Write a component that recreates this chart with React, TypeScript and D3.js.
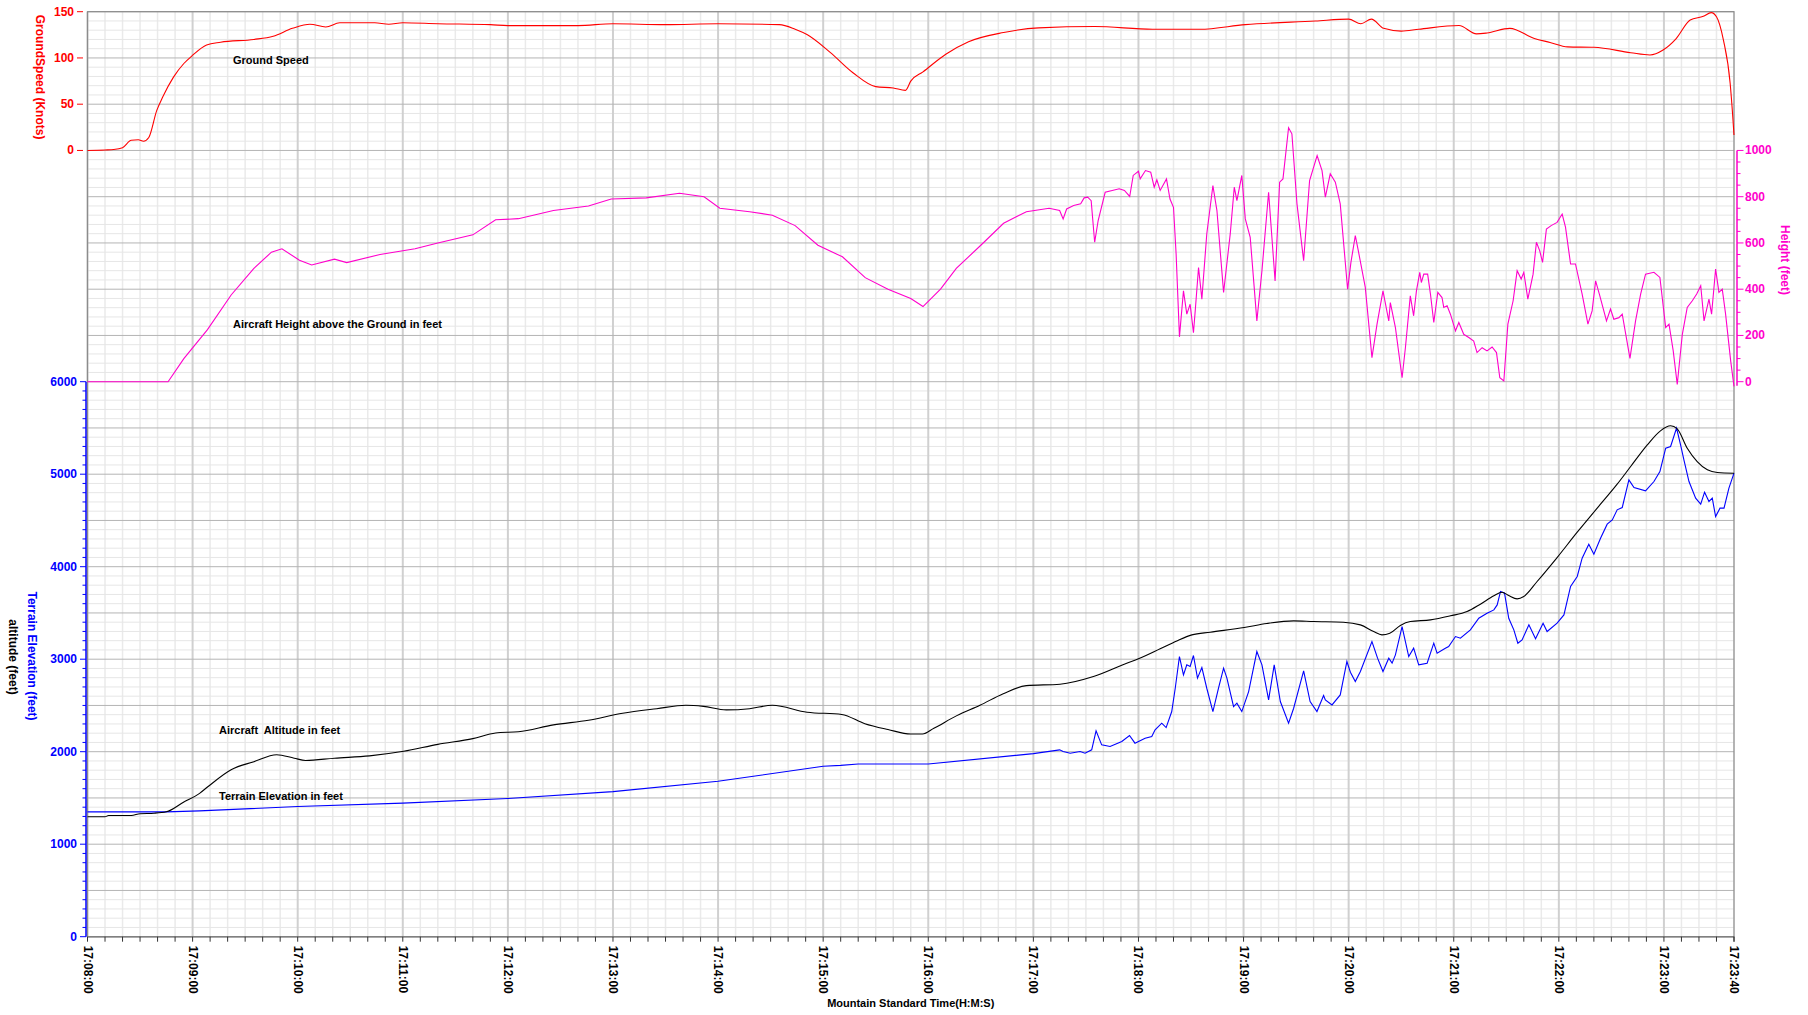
import React from "react";
import * as d3 from "d3";

// ---- data: [seconds after 17:08:00, value] ----
const timeTickLabels = [
  "17:08:00", "17:09:00", "17:10:00", "17:11:00", "17:12:00", "17:13:00",
  "17:14:00", "17:15:00", "17:16:00", "17:17:00", "17:18:00", "17:19:00",
  "17:20:00", "17:21:00", "17:22:00", "17:23:00", "17:23:40",
];

const speedTicks = [0, 50, 100, 150];
const heightTicks = [0, 200, 400, 600, 800, 1000];
const altitudeTicks = [0, 1000, 2000, 3000, 4000, 5000, 6000];

const groundSpeedKnots: [number, number][] = [
  [0, 0], [10, 0.5], [15, 1], [20, 3], [25, 11], [29, 11.5], [32, 10], [35, 14],
  [39.5, 43], [43, 58], [49, 79], [55, 94], [59.5, 102], [68, 114], [76, 117],
  [95, 120], [106, 123.5], [117, 132], [127, 136.5], [136, 133.5], [144, 138],
  [164, 138], [172, 136.5], [180, 138], [200, 137], [230, 136], [240, 135],
  [280, 135], [300, 137], [330, 136], [360, 137], [395, 136], [404, 131],
  [411, 125], [424, 106], [437, 84], [450, 69], [460, 67.5], [467, 65], [470, 75],
  [477, 85], [490, 104], [503, 117.5], [523, 127.5], [543, 132.5], [575, 134],
  [608, 131], [635, 131], [661, 136], [701, 140], [720, 142], [727, 137],
  [733, 142], [740, 132], [750, 129], [760, 131], [783, 135], [793, 126],
  [799, 127], [812, 132], [826, 121], [835, 116.8], [845, 112], [860, 111.5],
  [881, 105.7], [892, 103.2], [899.5, 108.6], [907, 121], [915, 141],
  [922.5, 145], [927, 149], [930, 144.6], [934, 119], [937.8, 72.6],
  [939.3, 36.5], [940, 16.7],
];

const heightAboveGroundFt: [number, number][] = [
  [0, 0], [46, 0], [55, 100], [68.5, 225], [82, 375], [95, 490], [105, 560],
  [111, 575], [121, 525], [128, 505], [141, 530], [148, 515], [167, 550],
  [187, 575], [200, 600], [220, 635], [233, 700], [246, 705], [266, 740],
  [286, 760], [299, 790], [319, 795], [338, 815], [352, 800], [361, 750],
  [378, 735], [391, 720], [404, 675], [417, 590], [431, 540], [444, 450],
  [457, 400], [470, 360], [477, 325], [487, 400], [496, 490], [510, 590],
  [523, 685], [536, 735], [549, 750],
  [555, 740], [557, 704], [559, 747], [563, 762], [567, 769], [569, 795],
  [571, 798], [573, 783], [575, 603], [577, 697], [581, 819], [585, 827],
  [589, 834], [592, 827], [595, 801], [597, 892], [600, 910], [601, 877],
  [604, 913], [607, 906], [609, 841], [610.5, 873], [612.4, 827], [616, 877],
  [618, 790], [620, 754], [621.5, 552], [623.4, 194], [625.7, 393], [627.6, 292],
  [629.5, 335], [631.4, 212], [632.4, 306], [634.3, 494], [636.2, 357],
  [639, 639], [642.5, 848], [644.8, 740], [648.6, 386], [652.4, 639],
  [654.7, 841], [656.2, 783], [659, 892], [661, 704], [663.8, 624],
  [667.6, 263], [670.5, 480], [674.3, 819], [678, 436], [680.6, 863],
  [682.5, 877], [685.7, 1098], [687.6, 1072], [690.5, 769], [694.3, 523],
  [697.7, 870], [702, 978], [704.8, 913], [706.7, 798], [709.5, 899],
  [712.4, 863], [715.2, 769], [719.4, 400], [721.3, 516], [723.8, 632],
  [725.7, 559], [729.5, 408], [733.3, 104], [736.2, 249], [739.6, 393],
  [742.9, 263], [743.8, 342], [746.7, 234], [750.5, 17], [752.4, 147],
  [755.2, 371], [757.1, 285], [758.7, 393], [760.6, 473], [761.5, 429],
  [762.9, 465], [765.1, 465], [766.7, 379], [768.6, 256], [770.9, 386],
  [773.3, 364], [774.3, 321], [776.2, 328], [778.1, 292], [781, 220],
  [782.9, 256], [785.7, 205], [788.6, 191], [791.4, 176], [793.3, 126],
  [796.2, 147], [799, 133], [801.9, 150], [804.4, 126], [806.3, 17],
  [808.6, 3], [810.9, 249], [813.9, 350], [816.2, 480], [818.5, 444],
  [820, 473], [822.3, 357], [825.3, 465], [827.2, 603], [829.1, 566],
  [830.7, 516], [832.9, 660], [835.6, 675], [839, 689], [841.9, 725],
  [843.8, 668], [846.7, 509], [849.5, 509], [853.3, 379], [856.6, 249],
  [859, 306], [861, 436], [863.4, 371], [867.2, 263], [869.5, 314],
  [871.4, 270], [874.3, 277], [876.2, 292], [880.6, 101], [883.8, 263],
  [886.7, 379], [889.5, 465], [894.3, 473], [897.7, 451], [901, 234],
  [902.9, 249], [905.3, 133], [907.6, -12], [910.5, 205], [913.3, 321],
  [916.2, 350], [918.7, 379], [921, 415], [922.9, 263], [925.7, 357],
  [927.2, 292], [929.5, 487], [931.4, 386], [933.3, 400], [935.2, 292],
  [938.1, 90], [940, -20],
];

const aircraftAltitudeFt: [number, number][] = [
  [0, 1297], [10, 1297], [12, 1310], [25, 1310], [30, 1330], [38, 1335],
  [45, 1350], [55, 1456], [64, 1550], [68.5, 1618], [82, 1805], [95, 1892],
  [108, 1967], [118, 1930], [124.5, 1905], [141, 1930], [161, 1955],
  [180.5, 2004], [200, 2079], [220, 2141], [233, 2203], [246, 2216],
  [266, 2290], [286, 2340], [305.5, 2415], [325, 2465], [341.6, 2502],
  [351.6, 2490], [364.7, 2452], [378, 2465], [391, 2502], [410.8, 2427],
  [430.6, 2403], [443.8, 2303], [457, 2240], [470, 2191], [476.7, 2191],
  [483.2, 2253], [496.3, 2390], [509.5, 2502], [522.8, 2627], [536, 2714],
  [555.2, 2730], [574.3, 2813], [593.3, 2957], [600, 3004], [612.4, 3112],
  [621.9, 3198], [630.5, 3263], [641, 3292], [660.4, 3342], [673.3, 3386],
  [688.6, 3414], [700, 3407], [717, 3400], [726.7, 3371], [734.3, 3299],
  [739, 3263], [743.5, 3280], [749.5, 3365], [755.2, 3407], [766.7, 3425],
  [778.1, 3469], [787.6, 3515], [795.2, 3595], [802.9, 3685], [807.6, 3724],
  [811.4, 3688], [816.2, 3652], [820, 3678], [827.6, 3840], [839, 4099],
  [850.5, 4373], [861.9, 4633], [873.3, 4892], [881, 5083], [890.5, 5317],
  [898, 5469], [903.8, 5523], [907.6, 5490], [913.3, 5281], [919, 5137],
  [924.8, 5047], [930.5, 5018], [940, 5011],
];

const terrainElevationFt: [number, number][] = [
  [0, 1350], [45, 1350], [64, 1360], [120, 1407], [180, 1444], [240, 1494],
  [300, 1568], [360, 1680], [420, 1842], [430, 1852], [440, 1867], [480, 1867],
  [540, 1979], [555, 2020], [557, 2002], [561, 1984], [566.7, 2002],
  [569.5, 1984], [573.3, 2020], [575.8, 2225], [579, 2074], [583.8, 2056],
  [590.5, 2110], [594.9, 2175], [598, 2092], [603.8, 2146], [607.6, 2164],
  [609.5, 2236], [613.3, 2308], [615.8, 2261], [619, 2434], [621, 2686],
  [623.4, 3029], [625.7, 2831], [627.6, 2939], [629.5, 2921], [631.4, 3040],
  [633.7, 2795], [636.2, 2910], [639, 2686], [642.5, 2434], [645.7, 2686],
  [648.6, 2903], [650.5, 2795], [654.3, 2488], [656.2, 2524], [659, 2434],
  [662.9, 2650], [667.6, 3083], [670.5, 2939], [674.3, 2560], [677.5, 2939],
  [681, 2542], [685.7, 2308], [688.6, 2470], [694.3, 2874], [698, 2542],
  [701.9, 2434], [705.7, 2607], [706.7, 2560], [710.5, 2506], [715.2, 2614],
  [719, 2975], [721, 2859], [723.8, 2759], [726.7, 2867], [733.3, 3191],
  [736.5, 3011], [739.6, 2867], [742.9, 3011], [744.8, 2957], [746.7, 3047],
  [750.5, 3353], [754.3, 3029], [757.1, 3119], [760, 2939], [764.8, 2957],
  [768.6, 3173], [770.5, 3065], [775.2, 3119], [777.1, 3137], [781, 3245],
  [783.8, 3227], [789.5, 3317], [794.3, 3443], [799, 3497], [802.9, 3533],
  [804.8, 3587], [806.7, 3732], [809, 3714], [811.4, 3443], [814.3, 3317],
  [816.6, 3173], [819, 3209], [822.9, 3371], [826.7, 3220], [831, 3389],
  [833.3, 3299], [839, 3389], [842.9, 3479], [846.7, 3786], [850.5, 3894],
  [853.3, 4092], [857.1, 4243], [860, 4135], [863.8, 4308], [867.6, 4460],
  [870.5, 4506], [873.3, 4615], [876.2, 4640], [880, 4939], [882.9, 4856],
  [889.5, 4820], [894.3, 4921], [897.7, 5029], [901, 5281], [903.8, 5299],
  [907.2, 5498], [909.5, 5317], [911.4, 5155], [914.3, 4921], [918.1, 4741],
  [921, 4676], [923.2, 4806], [925.7, 4705], [927.6, 4741], [929.5, 4542],
  [932, 4633], [934.3, 4633], [937.1, 4849], [940, 5011],
];

// ---- layout ----
const W = 1808;
const H = 1015;
const PLOT_L = 87.5;
const PLOT_R = 1734;
const PLOT_T = 11.7;
const PLOT_B = 936.7;

const RED = "#ff0000";
const PINK = "#ff00cc";
const BLUE = "#0000ff";
const FONT = "'Liberation Sans', Arial, Helvetica, sans-serif";

const toSeconds = (s: string) => {
  const [h, m, sec] = s.split(":").map(Number);
  return (h - 17) * 3600 + (m - 8) * 60 + sec;
};

export default function App() {
  const endSec = toSeconds(timeTickLabels[timeTickLabels.length - 1]);
  const x = d3.scaleLinear().domain([0, endSec]).range([PLOT_L, PLOT_R]);

  // the altitude scale, extended upward, drives the whole background grid
  const altY = d3.scaleLinear().domain([0, 6000]).range([PLOT_B, 381.7]);
  const heightY = d3.scaleLinear().domain([0, 1000]).range([altY(6000), altY(8500)]);
  const speedY = d3.scaleLinear().domain([0, 150]).range([altY(8500), altY(10000)]);

  const gridTop = 10000;
  const minorH = d3.range(0, gridTop + 1, 100).filter((v) => v % 500 !== 0);
  const majorH = d3.range(0, gridTop + 1, 500);
  const minorV = d3.range(0, endSec + 1, 10).filter((v) => v % 60 !== 0);
  const majorV = d3.range(0, endSec + 1, 60);

  const mk = (y: d3.ScaleLinear<number, number>, curve: d3.CurveFactory) =>
    d3
      .line<[number, number]>()
      .x((d) => x(d[0]))
      .y((d) => y(d[1]))
      .curve(curve);

  const speedPath = mk(speedY, d3.curveMonotoneX)(groundSpeedKnots) || "";
  const heightPath = mk(heightY, d3.curveLinear)(heightAboveGroundFt) || "";
  const altPath = mk(altY, d3.curveMonotoneX)(aircraftAltitudeFt) || "";
  const terrainPath = mk(altY, d3.curveLinear)(terrainElevationFt) || "";

  const labelStyle: React.CSSProperties = {
    fontFamily: FONT,
    fontWeight: 700,
    fontSize: 12,
  };
  const noteStyle: React.CSSProperties = { ...labelStyle, fontSize: 11, whiteSpace: "pre" };

  const altMinor = d3.range(0, 6001, 100);
  const heightMinor = d3.range(0, 1001, 50);
  const xMinorTicks = d3.range(0, endSec + 1, 10);

  return (
    <div style={{ position: "absolute", left: 0, top: 0, width: W, height: H, overflow: "hidden" }}>
      <svg width={W} height={H} style={{ display: "block", background: "#fff" }}>
        <rect x={0} y={0} width={W} height={H} fill="#fff" />

        {/* background grid */}
        <g>
          {minorV.map((s) => (
            <line key={"mv" + s} x1={x(s)} x2={x(s)} y1={PLOT_T} y2={PLOT_B} stroke="#eaeaea" strokeWidth={1.5} />
          ))}
          {minorH.map((v) => (
            <line key={"mh" + v} x1={PLOT_L} x2={PLOT_R} y1={altY(v)} y2={altY(v)} stroke="#e6e6e6" strokeWidth={1} />
          ))}
          {majorV.map((s) => (
            <line key={"Mv" + s} x1={x(s)} x2={x(s)} y1={PLOT_T} y2={PLOT_B} stroke="#d0d0d0" strokeWidth={2} />
          ))}
          {majorH.map((v) => (
            <line key={"Mh" + v} x1={PLOT_L} x2={PLOT_R} y1={altY(v)} y2={altY(v)} stroke="#b4b4b4" strokeWidth={1} />
          ))}
          <rect x={PLOT_L} y={PLOT_T} width={PLOT_R - PLOT_L} height={PLOT_B - PLOT_T} fill="none" stroke="#8c8c8c" strokeWidth={1.2} />
        </g>

        {/* series */}
        <path d={terrainPath} fill="none" stroke={BLUE} strokeWidth={1.1} />
        <path d={altPath} fill="none" stroke="#000" strokeWidth={1.1} />
        <path d={heightPath} fill="none" stroke={PINK} strokeWidth={1.1} />
        <path d={speedPath} fill="none" stroke={RED} strokeWidth={1.1} />

        {/* in-plot labels */}
        <text x={233} y={64} style={noteStyle} fill="#000">Ground Speed</text>
        <text x={233} y={328} style={noteStyle} fill="#000">Aircraft Height above the Ground in feet</text>
        <text x={219} y={734} style={noteStyle} fill="#000">Aircraft  Altitude in feet</text>
        <text x={219} y={800} style={noteStyle} fill="#000">Terrain Elevation in feet</text>

        {/* left speed axis */}
        <g>
          {speedTicks.map((v) => (
            <g key={"st" + v}>
              <line x1={77} x2={83} y1={speedY(v)} y2={speedY(v)} stroke={RED} strokeWidth={1} />
              <text x={74} y={speedY(v)} dominantBaseline="central" textAnchor="end" style={labelStyle} fill={RED}>
                {v}
              </text>
            </g>
          ))}
          <text
            transform={`translate(40,${(speedY(150) + speedY(0)) / 2 - 4}) rotate(90)`}
            textAnchor="middle"
            dominantBaseline="central"
            style={labelStyle}
            fill={RED}
          >
            GroundSpeed (Knots)
          </text>
        </g>

        {/* left altitude axis */}
        <g>
          <line x1={86} x2={86} y1={altY(6000)} y2={altY(0)} stroke={BLUE} strokeWidth={1.5} />
          {altMinor.map((v) => (
            <line
              key={"am" + v}
              x1={v % 1000 === 0 ? 80 : 82.5}
              x2={86}
              y1={altY(v)}
              y2={altY(v)}
              stroke={BLUE}
              strokeWidth={1}
            />
          ))}
          {altitudeTicks.map((v) => (
            <text key={"at" + v} x={77} y={altY(v)} dominantBaseline="central" textAnchor="end" style={labelStyle} fill={BLUE}>
              {v}
            </text>
          ))}
          <text transform={`translate(32,656) rotate(90)`} textAnchor="middle" dominantBaseline="central" style={labelStyle} fill={BLUE}>
            Terrain Elevation (feet)
          </text>
          <text transform={`translate(13,657) rotate(90)`} textAnchor="middle" dominantBaseline="central" style={labelStyle} fill="#000">
            altitude (feet)
          </text>
        </g>

        {/* right height axis */}
        <g>
          <line x1={1737} x2={1737} y1={heightY(1000)} y2={heightY(0) + 4} stroke={PINK} strokeWidth={1.5} />
          {heightMinor.map((v) => (
            <line
              key={"hm" + v}
              x1={1737}
              x2={v % 200 === 0 ? 1743.5 : 1740.5}
              y1={heightY(v)}
              y2={heightY(v)}
              stroke={PINK}
              strokeWidth={1}
            />
          ))}
          {heightTicks.map((v) => (
            <text key={"ht" + v} x={1745} y={heightY(v)} dominantBaseline="central" style={labelStyle} fill={PINK}>
              {v}
            </text>
          ))}
          <text transform={`translate(1785,260) rotate(90)`} textAnchor="middle" dominantBaseline="central" style={labelStyle} fill={PINK}>
            Height (feet)
          </text>
        </g>

        {/* time axis */}
        <g>
          <line x1={PLOT_L} x2={PLOT_R} y1={PLOT_B} y2={PLOT_B} stroke="#808080" strokeWidth={1.5} />
          {xMinorTicks.map((s) => (
            <line key={"xt" + s} x1={x(s)} x2={x(s)} y1={PLOT_B} y2={PLOT_B + 5} stroke="#333" strokeWidth={1} />
          ))}
          <line x1={x(endSec)} x2={x(endSec)} y1={PLOT_B} y2={PLOT_B + 5} stroke="#333" strokeWidth={1} />
          {timeTickLabels.map((t) => (
            <text
              key={t}
              transform={`translate(${x(toSeconds(t))},${PLOT_B + 9}) rotate(90)`}
              dominantBaseline="central"
              style={labelStyle}
              fill="#000"
            >
              {t}
            </text>
          ))}
          <text x={(PLOT_L + PLOT_R) / 2} y={1007} textAnchor="middle" style={noteStyle} fill="#000">
            Mountain Standard Time(H:M:S)
          </text>
        </g>
      </svg>
    </div>
  );
}
